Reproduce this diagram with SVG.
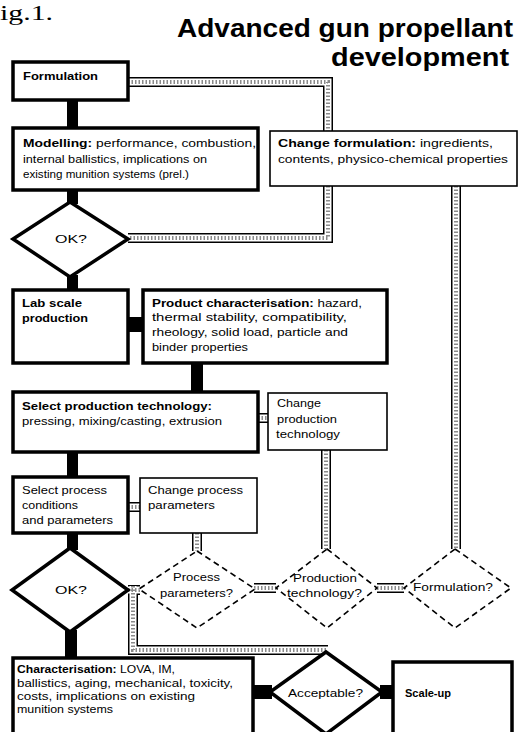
<svg xmlns="http://www.w3.org/2000/svg" xmlns:xlink="http://www.w3.org/1999/xlink" width="520" height="732" viewBox="0 0 520 732">
<style>
text{font-family:"Liberation Sans",Arial,sans-serif;font-size:11px;fill:#000}
.b{font-weight:bold}
.title{font-size:26px;font-weight:bold}
.fig{font-family:"Liberation Serif","Times New Roman",serif;font-size:20px}
.thick{fill:#fff;stroke:#000;stroke-width:3.5}
.thin{fill:#fff;stroke:#000;stroke-width:1.6}
.dash{fill:#fff;stroke:#000;stroke-width:1.6;stroke-dasharray:6 4}
.bar{fill:#000}
.o{fill:none;stroke:#000;stroke-width:10}
.i{fill:none;stroke:#fff;stroke-width:7}
.h{fill:none;stroke:#8a8a8a;stroke-width:4;stroke-dasharray:1.5 2}
</style>
<defs>
<path id="c1" d="M128,82 H328 V131"/>
<path id="c2" d="M328,186 V238 H128"/>
<path id="c3" d="M456,186 V549"/>
<path id="c4" d="M258,418 H268"/>
<path id="c5" d="M326,450 V549"/>
<path id="c6" d="M128,507 H140"/>
<path id="c7" d="M197,533 V551"/>
<path id="c8" d="M128,590 H140"/>
<path id="c9" d="M254,588 H276"/>
<path id="c10" d="M377,588 H404"/>
<path id="c11" d="M133,586 V650 H328"/>
</defs>
<rect width="520" height="732" fill="#fff"/>
<text class="fig" x="0" y="20" textLength="53" lengthAdjust="spacingAndGlyphs">ig.1.</text>
<g id="title">
<text class="title" x="177" y="37" textLength="336" lengthAdjust="spacingAndGlyphs">Advanced gun propellant</text>
<text class="title" x="331" y="66" textLength="178" lengthAdjust="spacingAndGlyphs">development</text>
</g>
<g id="connectors">
<rect class="bar" x="67" y="100" width="11" height="28"/>
<rect class="bar" x="67" y="190" width="11" height="14"/>
<rect class="bar" x="67" y="275" width="11" height="15"/>
<rect class="bar" x="128" y="317" width="15" height="15"/>
<rect class="bar" x="191" y="363" width="12" height="29"/>
<rect class="bar" x="67" y="452" width="11" height="25"/>
<rect class="bar" x="67" y="533" width="11" height="17"/>
<rect class="bar" x="65" y="630" width="12" height="28"/>
<rect class="bar" x="253" y="685" width="19" height="14"/>
<rect class="bar" x="380" y="685" width="13" height="14"/>
<g>
<use xlink:href="#c1" class="o"/><use xlink:href="#c2" class="o"/><use xlink:href="#c3" class="o"/><use xlink:href="#c4" class="o"/><use xlink:href="#c5" class="o"/><use xlink:href="#c6" class="o"/><use xlink:href="#c7" class="o"/><use xlink:href="#c8" class="o"/><use xlink:href="#c9" class="o"/><use xlink:href="#c10" class="o"/><use xlink:href="#c11" class="o"/>
</g>
<g>
<use xlink:href="#c1" class="i"/><use xlink:href="#c2" class="i"/><use xlink:href="#c3" class="i"/><use xlink:href="#c4" class="i"/><use xlink:href="#c5" class="i"/><use xlink:href="#c6" class="i"/><use xlink:href="#c7" class="i"/><use xlink:href="#c8" class="i"/><use xlink:href="#c9" class="i"/><use xlink:href="#c10" class="i"/><use xlink:href="#c11" class="i"/>
</g>
<g>
<use xlink:href="#c1" class="h"/><use xlink:href="#c2" class="h"/><use xlink:href="#c3" class="h"/><use xlink:href="#c4" class="h"/><use xlink:href="#c5" class="h"/><use xlink:href="#c6" class="h"/><use xlink:href="#c7" class="h"/><use xlink:href="#c8" class="h"/><use xlink:href="#c9" class="h"/><use xlink:href="#c10" class="h"/><use xlink:href="#c11" class="h"/>
</g>
</g>
<g id="formulation">
<rect class="thick" x="13" y="62" width="115" height="38"/>
<text class="b" x="23" y="80" textLength="75" lengthAdjust="spacingAndGlyphs">Formulation</text>
</g>
<g id="modelling">
<rect class="thick" x="13" y="128" width="245" height="62"/>
<text x="23" y="147" textLength="233" lengthAdjust="spacingAndGlyphs"><tspan class="b">Modelling:</tspan> performance, combustion,</text>
<text x="23" y="163" textLength="184" lengthAdjust="spacingAndGlyphs">internal ballistics, implications on</text>
<text x="23" y="178" textLength="166" lengthAdjust="spacingAndGlyphs">existing munition systems (prel.)</text>
</g>
<g id="change-formulation">
<rect class="thin" x="270" y="131" width="247" height="55"/>
<text x="278" y="147" textLength="215" lengthAdjust="spacingAndGlyphs"><tspan class="b">Change formulation:</tspan> ingredients,</text>
<text x="278" y="163" textLength="230" lengthAdjust="spacingAndGlyphs">contents, physico-chemical properties</text>
</g>
<g id="ok1">
<polygon class="thick" points="70,202 128,239 70,277 13,239"/>
<text x="55" y="243" textLength="32" lengthAdjust="spacingAndGlyphs">OK?</text>
</g>
<g id="lab-scale">
<rect class="thick" x="13" y="290" width="115" height="73"/>
<text class="b" x="22" y="307" textLength="60" lengthAdjust="spacingAndGlyphs">Lab scale</text>
<text class="b" x="22" y="322" textLength="66" lengthAdjust="spacingAndGlyphs">production</text>
</g>
<g id="product-characterisation">
<rect class="thick" x="143" y="290" width="244" height="73"/>
<text x="152" y="307" textLength="210" lengthAdjust="spacingAndGlyphs"><tspan class="b">Product characterisation:</tspan> hazard,</text>
<text x="152" y="321" textLength="195" lengthAdjust="spacingAndGlyphs">thermal stability, compatibility,</text>
<text x="152" y="336" textLength="196" lengthAdjust="spacingAndGlyphs">rheology, solid load, particle and</text>
<text x="152" y="351" textLength="96" lengthAdjust="spacingAndGlyphs">binder properties</text>
</g>
<g id="select-production">
<rect class="thick" x="13" y="392" width="245" height="60"/>
<text class="b" x="22" y="410" textLength="190" lengthAdjust="spacingAndGlyphs">Select production technology:</text>
<text x="22" y="425" textLength="200" lengthAdjust="spacingAndGlyphs">pressing, mixing/casting, extrusion</text>
</g>
<g id="change-production">
<rect class="thin" x="268" y="393" width="119" height="57"/>
<text x="277" y="407" textLength="44" lengthAdjust="spacingAndGlyphs">Change</text>
<text x="277" y="423" textLength="60" lengthAdjust="spacingAndGlyphs">production</text>
<text x="276" y="438" textLength="64" lengthAdjust="spacingAndGlyphs">technology</text>
</g>
<g id="select-process">
<rect class="thick" x="13" y="477" width="115" height="56"/>
<text x="22" y="494" textLength="85" lengthAdjust="spacingAndGlyphs">Select process</text>
<text x="22" y="509" textLength="56" lengthAdjust="spacingAndGlyphs">conditions</text>
<text x="22" y="524" textLength="91" lengthAdjust="spacingAndGlyphs">and parameters</text>
</g>
<g id="change-process">
<rect class="thin" x="140" y="478" width="117" height="55"/>
<text x="148" y="494" textLength="95" lengthAdjust="spacingAndGlyphs">Change process</text>
<text x="148" y="509" textLength="67" lengthAdjust="spacingAndGlyphs">parameters</text>
</g>
<g id="ok2">
<polygon class="thick" points="70,548 128,590 70,632 12,590"/>
<text x="55" y="594" textLength="32" lengthAdjust="spacingAndGlyphs">OK?</text>
</g>
<g id="process-parameters">
<polygon class="dash" points="197,551 255,589 197,628 139,589"/>
<text x="173" y="581" textLength="47" lengthAdjust="spacingAndGlyphs">Process</text>
<text x="160" y="597" textLength="73" lengthAdjust="spacingAndGlyphs">parameters?</text>
</g>
<g id="production-technology">
<polygon class="dash" points="327,549 377,588 327,628 276,588"/>
<text x="293" y="582" textLength="64" lengthAdjust="spacingAndGlyphs">Production</text>
<text x="287" y="597" textLength="75" lengthAdjust="spacingAndGlyphs">technology?</text>
</g>
<g id="formulation-q">
<polygon class="dash" points="455,549 511,588 455,628 404,588"/>
<text x="413" y="591" textLength="80" lengthAdjust="spacingAndGlyphs">Formulation?</text>
</g>
<g id="characterisation">
<rect class="thick" x="13" y="658" width="240" height="90"/>
<text x="17" y="673" textLength="158" lengthAdjust="spacingAndGlyphs"><tspan class="b">Characterisation:</tspan> LOVA, IM,</text>
<text x="17" y="687" textLength="216" lengthAdjust="spacingAndGlyphs">ballistics, aging, mechanical, toxicity,</text>
<text x="17" y="700" textLength="178" lengthAdjust="spacingAndGlyphs">costs, implications on existing</text>
<text x="17" y="713" textLength="96" lengthAdjust="spacingAndGlyphs">munition systems</text>
</g>
<g id="acceptable">
<polygon class="thick" points="326,652 382,692 326,734 270,692"/>
<text x="288" y="697" textLength="75" lengthAdjust="spacingAndGlyphs">Acceptable?</text>
</g>
<g id="scale-up">
<rect class="thick" x="393" y="662" width="119" height="86"/>
<text class="b" x="405" y="697" textLength="46" lengthAdjust="spacingAndGlyphs">Scale-up</text>
</g>
</svg>
